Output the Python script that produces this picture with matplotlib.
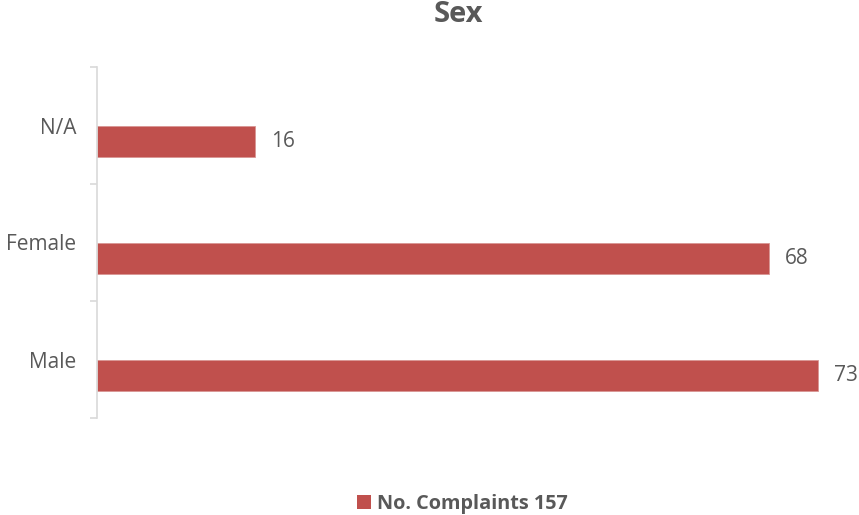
import matplotlib.pyplot as plt
from matplotlib.patches import Patch

# data
categories = ["Male", "Female", "N/A"]
complaints = [73, 68, 16]
legendLabel = "No. Complaints 157"
chartTitle = "Sex"

barColor = "#C0504D"
textColor = "#595959"
axisColor = "#D9D9D9"

plt.rcParams['font.family'] = ['Open Sans', 'DejaVu Sans']

fig = plt.figure(figsize=(8.59, 5.15), dpi=100)
ax = fig.add_axes([97 / 859, 1 - 418 / 515, 751 / 859, 351 / 515])

positions = list(range(len(categories)))
barOffset = -0.137
ax.barh([p + barOffset for p in positions], complaints, height=0.265,
        color=barColor, edgecolor="#D99694", linewidth=0.6)

for p, v in zip(positions, complaints):
    ax.text(v + 1.6, p + barOffset, str(v), va="center", ha="left",
            fontsize=15, color=textColor)

ax.set_xlim(0, 76)
ax.set_ylim(-0.5, len(categories) - 0.5)
ax.set_yticks(positions)
ax.set_yticklabels(categories)
ax.set_yticks([p - 0.5 for p in positions] + [len(categories) - 0.5], minor=True)
ax.tick_params(axis="y", which="major", length=0, pad=15, labelsize=15,
               labelcolor=textColor)
ax.tick_params(axis="y", which="minor", length=5, width=1.2, color=axisColor)
ax.set_xticks([])

for side in ["top", "right", "bottom"]:
    ax.spines[side].set_visible(False)
ax.spines["left"].set_color(axisColor)
ax.spines["left"].set_linewidth(1.2)

fig.text(458 / 859, 1 - 15 / 515, chartTitle, ha="center", va="center",
         fontsize=21, fontweight="bold", color=textColor)

handle = Patch(facecolor=barColor, edgecolor="none")
leg = fig.legend([handle], [legendLabel], loc="center",
                 bbox_to_anchor=(462 / 859, 1 - 504 / 515), frameon=False,
                 handlelength=0.7, handleheight=0.7, handletextpad=0.3,
                 prop={"size": 14.3, "weight": "bold"})
for t in leg.get_texts():
    t.set_color(textColor)

fig.savefig("out.png", dpi=100)
